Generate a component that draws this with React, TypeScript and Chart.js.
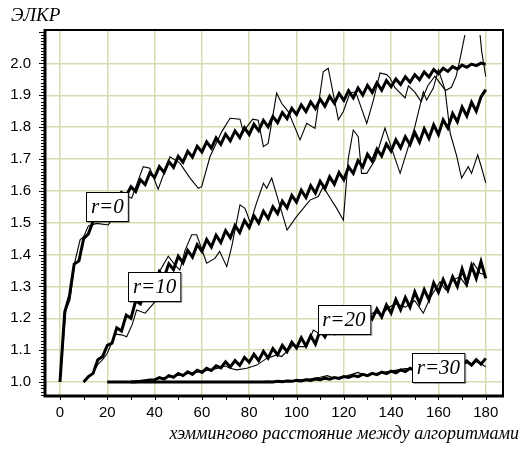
import React, { useEffect, useRef } from 'react';
import { Chart, registerables } from 'chart.js';

Chart.register(...registerables);

// ---------- text ----------
const yTitle = 'ЭЛКР';
const xTitle = 'хэммингово расстояние между алгоритмами';
const xTicks = [0, 20, 40, 60, 80, 100, 120, 140, 160, 180];
const yTicks = [1.0, 1.1, 1.2, 1.3, 1.4, 1.5, 1.6, 1.7, 1.8, 1.9, 2.0];

// curve labels (anchored at data coordinates)
const curveLabels = ['r=0', 'r=10', 'r=20', 'r=30'];
const curveLabelX = [20, 40, 120, 160];
const curveLabelY = [1.55, 1.3, 1.195, 1.045];

// ---------- thick (model) series, sampled every 2 units ----------
const STEP = 2;
const thick0Start = 0;
const thick0 = [
  1.0, 1.22, 1.27, 1.37, 1.38, 1.45, 1.465, 1.505, 1.515, 1.55, 1.545, 1.575, 1.565, 1.595, 1.585,
  1.613, 1.598, 1.635, 1.62, 1.657, 1.642, 1.676, 1.658, 1.692, 1.674, 1.708, 1.69, 1.724, 1.706, 1.74,
  1.722, 1.754, 1.734, 1.766, 1.746, 1.778, 1.757, 1.788, 1.767, 1.798, 1.777, 1.809, 1.789, 1.821, 1.801,
  1.833, 1.814, 1.846, 1.827, 1.859, 1.84, 1.87, 1.849, 1.879, 1.858, 1.888, 1.866, 1.897, 1.875, 1.906,
  1.884, 1.914, 1.892, 1.923, 1.901, 1.931, 1.909, 1.939, 1.916, 1.946, 1.927, 1.951, 1.934, 1.958, 1.941,
  1.965, 1.949, 1.973, 1.957, 1.981, 1.968, 1.985, 1.975, 1.99, 1.982, 1.995, 1.988, 1.998, 1.993, 2.001, 1.997,
];
const thick10Start = 10;
const thick10 = [
  1.0, 1.017, 1.027, 1.07, 1.08, 1.115, 1.122, 1.17, 1.16, 1.21, 1.2, 1.255, 1.245, 1.29, 1.28,
  1.305, 1.347, 1.329, 1.371, 1.353, 1.395, 1.374, 1.413, 1.392, 1.431, 1.41, 1.447, 1.424, 1.461, 1.438,
  1.475, 1.453, 1.491, 1.469, 1.507, 1.485, 1.522, 1.499, 1.536, 1.513, 1.55, 1.529, 1.568, 1.547, 1.586,
  1.565, 1.602, 1.579, 1.616, 1.593, 1.63, 1.607, 1.644, 1.621, 1.658, 1.635, 1.675, 1.655, 1.695, 1.675,
  1.715, 1.693, 1.731, 1.709, 1.747, 1.725, 1.76, 1.735, 1.77, 1.745, 1.783, 1.753, 1.795, 1.765, 1.807,
  1.777, 1.823, 1.797, 1.843, 1.817, 1.863, 1.835, 1.878, 1.85, 1.895, 1.918,
];
const thick20Start = 20;
const thick20 = [
  1.0, 1.0, 1.0, 1.0, 1.0, 1.0, 1.001, 1.002, 1.004, 1.006,
  1.007, 1.014, 1.009, 1.02, 1.015, 1.027, 1.02, 1.032, 1.024, 1.037,
  1.03, 1.043, 1.036, 1.051, 1.044, 1.063, 1.047, 1.067, 1.052, 1.077,
  1.062, 1.087, 1.067, 1.096, 1.075, 1.105, 1.085, 1.115, 1.095, 1.125,
  1.107, 1.139, 1.113, 1.145, 1.119, 1.163, 1.142, 1.173, 1.153, 1.183,
  1.162, 1.194, 1.168, 1.206, 1.18, 1.218, 1.198, 1.229, 1.204, 1.242,
  1.217, 1.259, 1.227, 1.265, 1.235, 1.283, 1.248, 1.29, 1.258, 1.311,
  1.282, 1.322, 1.288, 1.33, 1.3, 1.355, 1.31, 1.365, 1.325, 1.378,
  1.325,
];
const thick30Start = 30;
const thick30 = [
  1.0, 1.0, 1.0, 1.0, 1.0, 1.0, 1.0, 1.0, 1.0, 1.0,
  1.0, 1.0, 1.0, 1.0, 1.0, 1.0, 1.0, 1.0, 1.0, 1.0,
  1.0, 1.0, 1.0, 1.0, 1.0, 1.0, 1.0, 1.0, 1.0,
  1.001, 1.0, 1.002, 1.001, 1.003, 1.002, 1.005, 1.003, 1.007, 1.005,
  1.009, 1.007, 1.012, 1.009, 1.014, 1.011, 1.017, 1.014, 1.02, 1.017,
  1.024, 1.02, 1.027, 1.023, 1.031, 1.026, 1.034, 1.029, 1.038, 1.033,
  1.043, 1.037, 1.047, 1.041, 1.05, 1.044, 1.054, 1.047, 1.058, 1.05,
  1.062, 1.052, 1.066, 1.053, 1.07, 1.056, 1.074,
];

// ---------- thin (experimental) series ----------
const thin0X = [0, 2.5, 4.2, 6.3, 8.5, 10, 12, 15.5, 20.4, 24, 28.9, 30.3, 35.2, 38, 41.5, 46.5, 50.7, 55, 58.5, 59.9, 63.4, 68.4, 71.9, 76.1, 77.5, 81.5, 83.8, 86, 88, 91.6, 93.7, 96.5, 101.5, 104.3, 107.8, 111.3, 113.4, 117.7, 119.8, 122.6, 125, 129.7, 132.5, 135.3, 138.1, 139.5, 141.6, 145.9, 147.3, 150, 152.7, 155.5, 158.5, 160.5, 163, 165.5, 167.5, 169, 171.2, 173, 176.5, 177.6, 178.3, 180];
const thin0Y = [1.0, 1.226, 1.257, 1.378, 1.446, 1.456, 1.49, 1.498, 1.493, 1.53, 1.582, 1.577, 1.676, 1.671, 1.605, 1.707, 1.687, 1.64, 1.608, 1.613, 1.707, 1.786, 1.828, 1.825, 1.786, 1.825, 1.822, 1.739, 1.749, 1.907, 1.875, 1.849, 1.76, 1.812, 1.796, 1.974, 1.985, 1.823, 1.849, 1.907, 1.911, 1.812, 1.885, 1.97, 1.965, 1.955, 1.924, 1.892, 1.93, 1.91, 1.88, 1.93, 1.96, 1.94, 1.915, 1.925, 1.96, 2.01, 2.09, 2.2, 2.2, 2.09, 2.037, 1.959];

const thin10X = [10, 12, 14, 16, 18, 20, 22, 23.3, 26, 28.2, 30.5, 32.4, 36, 40.2, 42.3, 45.8, 48.6, 50.7, 52.9, 55.7, 57.8, 62, 65.5, 67.5, 70.5, 72.6, 76.1, 78.2, 80.5, 83, 86, 87.4, 89.5, 92.3, 96, 100, 105.7, 109.2, 111.3, 114, 117, 119.8, 121.9, 124, 126.1, 127.5, 129.7, 133.2, 137.4, 139.5, 143.8, 147.3, 150, 153.6, 155, 157.8, 160, 162.8, 165, 167.7, 169.8, 172.6, 174, 176.6, 178.3, 180];
const thin10Y = [1.0, 1.013, 1.03, 1.055, 1.07, 1.09, 1.125, 1.15, 1.148, 1.142, 1.18, 1.226, 1.216, 1.252, 1.35, 1.395, 1.367, 1.352, 1.414, 1.462, 1.462, 1.373, 1.388, 1.41, 1.362, 1.425, 1.556, 1.545, 1.5, 1.56, 1.624, 1.608, 1.64, 1.57, 1.477, 1.519, 1.571, 1.582, 1.613, 1.58, 1.545, 1.508, 1.702, 1.791, 1.77, 1.655, 1.655, 1.697, 1.797, 1.749, 1.655, 1.739, 1.8, 1.911, 1.885, 1.922, 1.98, 1.917, 1.78, 1.71, 1.64, 1.676, 1.655, 1.713, 1.671, 1.625];

const thin20X = [20, 30, 36, 42, 48, 54, 60, 66, 70, 71.9, 74.7, 79, 83.2, 87.4, 91.6, 93.7, 96.5, 98.6, 100.8, 104.3, 107.1, 110, 115, 120, 125, 130, 133, 136, 139, 142, 146, 150, 153.6, 156.4, 160.7, 163, 166, 169.1, 172, 174.8, 177.6, 180];
const thin20Y = [1.0, 1.0, 1.004, 1.011, 1.018, 1.026, 1.033, 1.042, 1.05, 1.043, 1.038, 1.043, 1.053, 1.074, 1.085, 1.08, 1.1, 1.116, 1.111, 1.111, 1.163, 1.15, 1.17, 1.175, 1.19, 1.205, 1.22, 1.21, 1.235, 1.245, 1.235, 1.255, 1.216, 1.263, 1.315, 1.29, 1.32, 1.33, 1.3, 1.373, 1.341, 1.336];

const thin30X = [30, 60, 86, 92, 100, 106, 110, 113, 116, 120, 126, 129, 134, 140, 146, 150, 160, 170, 172, 174, 176, 178, 180];
const thin30Y = [1.0, 1.0, 1.0, 1.003, 1.005, 1.01, 1.015, 1.02, 1.012, 1.016, 1.03, 1.02, 1.027, 1.034, 1.042, 1.04, 1.05, 1.055, 1.06, 1.052, 1.064, 1.057, 1.048];

// ---------- helpers ----------
const stepPts = (start: number, ys: number[]) => ys.map((y, i) => ({ x: start + STEP * i, y }));
const zipPts = (xs: number[], ys: number[]) => xs.map((x, i) => ({ x, y: ys[i] }));

const W = 521;
const H = 452;
const SERIF = '"Liberation Serif", "Times New Roman", serif';
const SANS = '"Liberation Sans", Arial, sans-serif';

const decor = {
  id: 'decor',
  afterDatasetsDraw(chart: any) {
    const { ctx, chartArea, scales } = chart;
    const { left, right, top, bottom } = chartArea;
    const xs = scales.x;
    const ys = scales.y;
    ctx.save();
    ctx.strokeStyle = '#000';
    // minor ticks on y (every 0.01)
    ctx.lineWidth = 1;
    ctx.beginPath();
    for (let k = 96; k <= 210; k++) {
      const py = Math.round(ys.getPixelForValue(k / 100)) + 0.5;
      if (py < top || py > bottom) continue;
      const len = k % 10 === 0 ? 5 : 3;
      ctx.moveTo(left - len - 1, py);
      ctx.lineTo(left, py);
    }
    // minor ticks on x (every 10)
    for (let v = 0; v <= 180; v += 10) {
      const px = Math.round(xs.getPixelForValue(v)) + 0.5;
      ctx.moveTo(px, bottom);
      ctx.lineTo(px, bottom + 4);
    }
    ctx.stroke();
    // frame
    ctx.lineWidth = 2;
    ctx.strokeRect(left, top, right - left, bottom - top);
    ctx.lineWidth = 3;
    ctx.beginPath();
    ctx.moveTo(left, top - 1);
    ctx.lineTo(left, bottom);
    ctx.lineTo(right + 1, bottom);
    ctx.stroke();
    // curve label boxes
    ctx.font = `italic 21px ${SERIF}`;
    ctx.textAlign = 'center';
    ctx.textBaseline = 'middle';
    curveLabels.forEach((t, i) => {
      const cx = xs.getPixelForValue(curveLabelX[i]);
      const cy = ys.getPixelForValue(curveLabelY[i]);
      const w = ctx.measureText(t).width + 9;
      const h = 29;
      const bx = Math.round(cx - w / 2) + 0.5;
      const by = Math.round(cy - h / 2) + 0.5;
      ctx.fillStyle = '#fff';
      ctx.fillRect(bx, by, w, h);
      ctx.strokeStyle = '#000';
      ctx.lineWidth = 1;
      ctx.strokeRect(bx, by, w, h);
      ctx.strokeStyle = 'rgba(0,0,0,0.35)';
      ctx.beginPath();
      ctx.moveTo(bx + w + 1, by + 1);
      ctx.lineTo(bx + w + 1, by + h + 1);
      ctx.lineTo(bx + 1, by + h + 1);
      ctx.stroke();
      ctx.fillStyle = '#000';
      ctx.fillText(t, cx, cy + 1);
    });
    ctx.restore();
  },
  afterDraw(chart: any) {
    const { ctx } = chart;
    ctx.save();
    ctx.fillStyle = '#000';
    ctx.textBaseline = 'alphabetic';
    ctx.font = `italic 19px ${SERIF}`;
    ctx.textAlign = 'left';
    ctx.fillText(yTitle, 11, 21);
    ctx.font = `italic 18px ${SERIF}`;
    ctx.textAlign = 'right';
    ctx.fillText(xTitle, 519, 439);
    ctx.restore();
  },
};

export default function App() {
  const ref = useRef<HTMLCanvasElement | null>(null);
  useEffect(() => {
    if (!ref.current) return;
    const thick = { borderColor: '#000', borderWidth: 3, pointRadius: 0, tension: 0, fill: false, clip: { left: 0, top: -5, right: 0, bottom: 0 } };
    const thin = { borderColor: '#000', borderWidth: 1.1, pointRadius: 0, tension: 0, fill: false, clip: { left: 0, top: -5, right: 0, bottom: 0 } };
    const chart = new Chart(ref.current, {
      type: 'line',
      data: {
        datasets: [
          { label: 'r=0 эксп.', data: zipPts(thin0X, thin0Y), ...thin },
          { label: 'r=10 эксп.', data: zipPts(thin10X, thin10Y), ...thin },
          { label: 'r=20 эксп.', data: zipPts(thin20X, thin20Y), ...thin },
          { label: 'r=30 эксп.', data: zipPts(thin30X, thin30Y), ...thin },
          { label: 'r=0', data: stepPts(thick0Start, thick0), ...thick },
          { label: 'r=10', data: stepPts(thick10Start, thick10), ...thick },
          { label: 'r=20', data: stepPts(thick20Start, thick20), ...thick },
          { label: 'r=30', data: stepPts(thick30Start, thick30), ...thick },
        ] as any,
      },
      options: {
        animation: false,
        responsive: false,
        devicePixelRatio: 1,
        layout: { padding: { left: 0, top: 30, right: 18, bottom: 0 } },
        plugins: { legend: { display: false }, tooltip: { enabled: false }, title: { display: false } },
        elements: { line: { borderJoinStyle: 'miter', borderCapStyle: 'butt' } },
        scales: {
          x: {
            type: 'linear',
            min: -6.34,
            max: 187.3,
            afterBuildTicks: (s: any) => { s.ticks = xTicks.map((v) => ({ value: v })); },
            afterFit: (s: any) => { s.height = 56; },
            grid: { color: '#d9d9b2', lineWidth: 1.5, drawTicks: false },
            border: { display: false },
            ticks: { color: '#000', font: { family: SANS, size: 15 }, padding: 8, maxRotation: 0, autoSkip: false, callback: (v: any) => String(v) },
          },
          y: {
            type: 'linear',
            min: 0.956,
            max: 2.105,
            afterBuildTicks: (s: any) => { s.ticks = yTicks.map((v) => ({ value: v })); },
            afterFit: (s: any) => { s.width = 45; },
            grid: { color: '#d9d9b2', lineWidth: 1.5, drawTicks: false },
            border: { display: false },
            ticks: { color: '#000', font: { family: SANS, size: 15 }, padding: 14, autoSkip: false, callback: (v: any) => Number(v).toFixed(1) },
          },
        },
      } as any,
      plugins: [decor],
    });
    return () => chart.destroy();
  }, []);
  return (
    <div style={{ position: 'fixed', left: 0, top: 0, width: W, height: H, background: '#fff' }}>
      <canvas ref={ref} width={W} height={H} style={{ display: 'block', width: W, height: H }} />
    </div>
  );
}
